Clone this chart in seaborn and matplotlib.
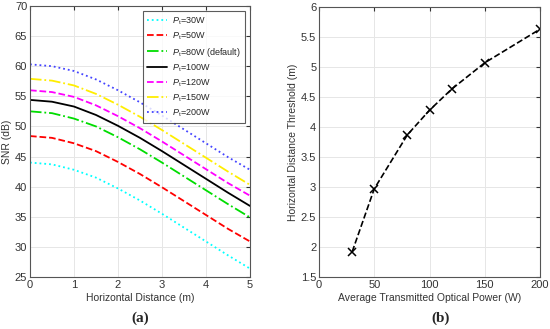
import numpy as np
import pandas as pd
import matplotlib
matplotlib.use("Agg")
import matplotlib.pyplot as plt
import seaborn as sns

# Data
distance = [0, 0.5, 1, 1.5, 2, 2.5, 3, 3.5, 4, 4.5, 5]
snr_30w = [44.0, 43.7, 42.8, 41.5, 39.7, 37.7, 35.5, 33.2, 30.9, 28.6, 26.4]
snr_50w = [48.4, 48.1, 47.2, 45.9, 44.1, 42.1, 39.9, 37.6, 35.3, 33.0, 30.9]
snr_80w = [52.5, 52.2, 51.3, 50.0, 48.2, 46.2, 44.0, 41.7, 39.4, 37.1, 34.9]
snr_100w = [54.4, 54.1, 53.3, 51.9, 50.1, 48.1, 45.9, 43.6, 41.3, 39.0, 36.8]
snr_120w = [56.0, 55.7, 54.9, 53.5, 51.7, 49.7, 47.5, 45.2, 42.9, 40.6, 38.5]
snr_150w = [57.9, 57.6, 56.8, 55.4, 53.6, 51.6, 49.4, 47.1, 44.8, 42.5, 40.3]
snr_200w = [60.3, 60.0, 59.2, 57.8, 56.0, 54.0, 51.8, 49.5, 47.2, 44.9, 42.8]

power = [30, 50, 80, 100, 120, 150, 200]
threshold = [1.92, 2.97, 3.87, 4.28, 4.63, 5.07, 5.63]

sns.set_style("whitegrid")
plt.rcParams['font.family'] = ['Liberation Sans', 'DejaVu Sans']
plt.rcParams['mathtext.fontset'] = 'custom'
plt.rcParams['mathtext.it'] = 'Liberation Sans:italic'
plt.rcParams['mathtext.rm'] = 'Liberation Sans'

fig = plt.figure(figsize=(5.5, 3.29), dpi=100)
ax1 = fig.add_axes([0.0545, 0.158, 0.40, 0.824])
ax2 = fig.add_axes([0.58, 0.158, 0.402, 0.821])

# (a) SNR vs horizontal distance
series = [
    (snr_30w, '30W', 'cyan', ':'),
    (snr_50w, '50W', 'red', '--'),
    (snr_80w, '80W (default)', '#00dd00', '-.'),
    (snr_100w, '100W', 'black', '-'),
    (snr_120w, '120W', 'magenta', '--'),
    (snr_150w, '150W', '#ffee00', '-.'),
    (snr_200w, '200W', '#4444ff', ':'),
]
for vals, name, col, ls in series:
    sns.lineplot(x=distance, y=vals, ax=ax1, color=col, linestyle=ls, lw=1.3,
                 label=r'$P_{\mathrm{t}}$=' + name)

ax1.set_xlim(0, 5)
ax1.set_ylim(25, 70)
ax1.set_xticks([0, 1, 2, 3, 4, 5])
ax1.set_yticks(range(25, 71, 5))
ax1.set_xlabel('Horizontal Distance (m)', fontsize=7.5, color='#333333', labelpad=2)
ax1.set_ylabel('SNR (dB)', fontsize=7.5, color='#333333', labelpad=2)
leg = ax1.legend(loc='upper right', fontsize=6.5, frameon=True, fancybox=False,
                 edgecolor='#333333', handlelength=2.2, handletextpad=0.5,
                 borderaxespad=0.6, labelspacing=0.4, borderpad=0.45)
leg.get_frame().set_linewidth(0.8)

# (b) threshold vs transmitted power
sns.lineplot(x=power, y=threshold, ax=ax2, color='black', linestyle='--', lw=1.2,
             marker='x', markersize=6, markeredgewidth=1.1, markeredgecolor='black')
ax2.set_xlim(0, 200)
ax2.set_ylim(1.5, 6)
ax2.set_xticks([0, 50, 100, 150, 200])
ax2.set_yticks(np.arange(1.5, 6.01, 0.5))
ax2.set_yticklabels(['1.5', '2', '2.5', '3', '3.5', '4', '4.5', '5', '5.5', '6'])
ax2.set_xlabel('Average Transmitted Optical Power (W)', fontsize=7.5, color='#333333', labelpad=2)
ax2.set_ylabel('Horizontal Distance Threshold (m)', fontsize=7.5, color='#333333', labelpad=2)

for ax in (ax1, ax2):
    ax.grid(True, color='#e6e6e6', lw=0.7)
    ax.tick_params(direction='in', labelsize=8, length=3, colors='#333333', pad=2)
    ax.tick_params(top=True, right=True, which='both', direction='in')
    for s in ax.spines.values():
        s.set_color('#555555')
        s.set_linewidth(0.8)

fig.text(0.2545, 0.033, '(a)', ha='center', va='center', fontsize=11,
         fontweight='bold', family='Liberation Serif')
fig.text(0.801, 0.033, '(b)', ha='center', va='center', fontsize=11,
         fontweight='bold', family='Liberation Serif')

fig.savefig('out.png', dpi=100)
